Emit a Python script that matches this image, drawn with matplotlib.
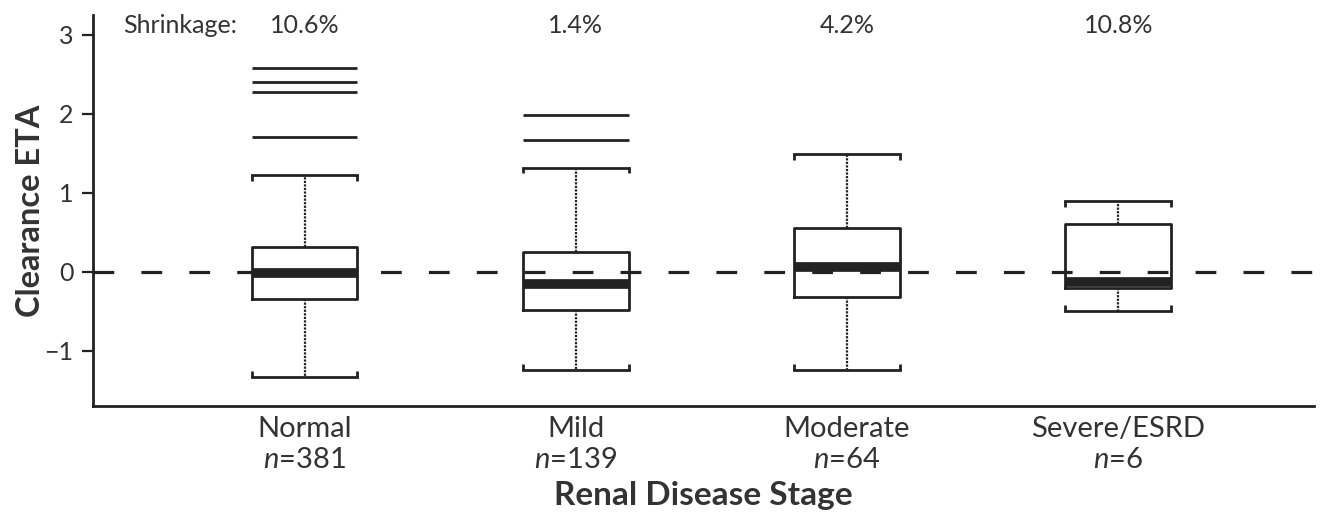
import matplotlib
matplotlib.use("Agg")
import matplotlib.pyplot as plt
import numpy as np

plt.rcParams['font.family'] = ['Lato', 'DejaVu Sans']
plt.rcParams['mathtext.fontset'] = 'custom'
plt.rcParams['mathtext.it'] = 'Lato:italic'
plt.rcParams['mathtext.rm'] = 'Lato'

categories = ["Normal", "Mild", "Moderate", "Severe/ESRD"]
n_values = [381, 139, 64, 6]
shrinkage = ["10.6%", "1.4%", "4.2%", "10.8%"]
whisker_low = [-1.33, -1.24, -1.24, -0.49]
q1 = [-0.35, -0.48, -0.32, -0.20]
median = [-0.01, -0.15, 0.06, -0.13]
q3 = [0.32, 0.25, 0.55, 0.61]
whisker_high = [1.22, 1.32, 1.49, 0.89]
outliers = [[2.58, 2.40, 2.28, 1.70], [1.99, 1.67], [], []]
yticks = [-1, 0, 1, 2, 3]

TXT = '#333333'
LINE = '#222222'

fig = plt.figure(figsize=(13.24, 5.18), dpi=100)
ax = fig.add_axes([0.0702, 0.216, 0.922, 0.755])

positions = np.arange(1, len(categories) + 1)
width = 0.39

stats = []
for i, c in enumerate(categories):
    stats.append(dict(med=median[i], q1=q1[i], q3=q3[i],
                      whislo=whisker_low[i], whishi=whisker_high[i],
                      fliers=[], label=c))

ax.axhline(0, color=LINE, lw=2.3, dashes=(6.5, 8.5), zorder=1)

ax.bxp(stats, positions=positions, widths=width, showfliers=False,
       patch_artist=False,
       boxprops=dict(color=LINE, lw=2.0),
       whiskerprops=dict(color=LINE, lw=1.6, linestyle=(0, (1, 0.6))),
       capprops=dict(color=LINE, lw=2.0),
       medianprops=dict(color=LINE, lw=7.0, solid_capstyle='butt'),
       capwidths=width, zorder=2)

# small end ticks on caps
tick_len = 0.07
for i, p in enumerate(positions):
    for xe in (p - width / 2, p + width / 2):
        ax.plot([xe, xe], [whisker_high[i], whisker_high[i] - tick_len], color=LINE, lw=2.0, solid_capstyle='butt')
        ax.plot([xe, xe], [whisker_low[i], whisker_low[i] + tick_len], color=LINE, lw=2.0, solid_capstyle='butt')
    for o in outliers[i]:
        ax.hlines(o, p - width / 2, p + width / 2, color=LINE, lw=2.0)

ax.set_xlim(0.22, 4.72)
ax.set_ylim(-1.70, 3.25)
ax.set_yticks(yticks)
ax.set_yticklabels([str(t).replace('-', '\u2212') for t in yticks])
ax.set_xticks(positions)
ax.set_xticklabels([f"{c}\n$\\it{{n}}$={n}" for c, n in zip(categories, n_values)],
                   fontsize=21, color=TXT, linespacing=1.25)
ax.tick_params(axis='x', length=0, pad=7)
ax.tick_params(axis='y', labelsize=18, labelcolor=TXT, length=8, width=1.6, color=LINE, pad=6)

for s in ['top', 'right']:
    ax.spines[s].set_visible(False)
for s in ['left', 'bottom']:
    ax.spines[s].set_linewidth(2.0)
    ax.spines[s].set_color(LINE)

ax.set_ylabel("Clearance ETA", fontsize=23.5, fontweight='bold', color=TXT, labelpad=0)
ax.set_xlabel("Renal Disease Stage", fontsize=24, fontweight='bold', color=TXT, labelpad=6)

ytxt = 3.12
ax.text(0.54, ytxt, "Shrinkage:", fontsize=18, color=TXT, ha='center', va='center')
for p, s in zip(positions, shrinkage):
    ax.text(p, ytxt, s, fontsize=18, color=TXT, ha='center', va='center')

fig.savefig("out.png", dpi=100)
